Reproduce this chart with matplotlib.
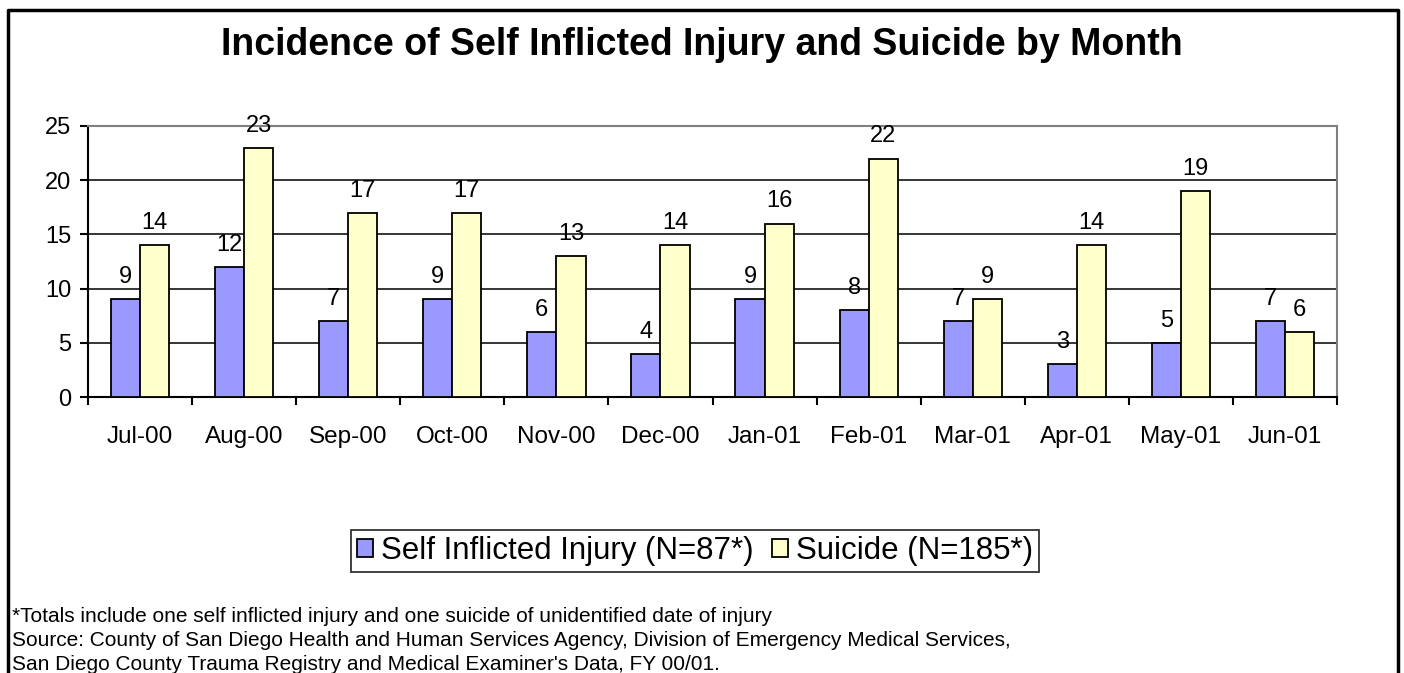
import matplotlib
matplotlib.use("Agg")
import matplotlib.pyplot as plt
import numpy as np

months = ["Jul-00", "Aug-00", "Sep-00", "Oct-00", "Nov-00", "Dec-00",
          "Jan-01", "Feb-01", "Mar-01", "Apr-01", "May-01", "Jun-01"]
self_injury = [9, 12, 7, 9, 6, 4, 9, 8, 7, 3, 5, 7]
suicide = [14, 23, 17, 17, 13, 14, 16, 22, 9, 14, 19, 6]
y_ticks = [0, 5, 10, 15, 20, 25]

BLUE = "#9999ff"
YELLOW = "#ffffcc"

plt.rcParams["font.family"] = ["Liberation Sans", "DejaVu Sans"]

fig = plt.figure(figsize=(14.04, 6.73), dpi=100)
ax = fig.add_axes([0.0627, 0.4101, 0.8896, 0.4027])

x = np.arange(len(months))
w = 0.28
b1 = ax.bar(x - w / 2, self_injury, w, color=BLUE, edgecolor="black",
            linewidth=1.3, zorder=3, label="Self Inflicted Injury (N=87*)")
b2 = ax.bar(x + w / 2, suicide, w, color=YELLOW, edgecolor="black",
            linewidth=1.3, zorder=3, label="Suicide (N=185*)")

for bars, vals in ((b1, self_injury), (b2, suicide)):
    for r, v in zip(bars, vals):
        ax.annotate(str(v), (r.get_x() + r.get_width() / 2, v),
                    xytext=(0, 8), textcoords="offset points",
                    ha="center", va="bottom", fontsize=17)

ax.set_xlim(-0.5, len(months) - 0.5)
ax.set_ylim(0, 25)
ax.set_yticks(y_ticks)
ax.set_yticklabels([str(t) for t in y_ticks], fontsize=17)
ax.set_xticks(x)
ax.set_xticklabels(months, fontsize=17.5)
ax.tick_params(axis="x", length=0, pad=21)
ax.set_xticks(np.arange(-0.5, len(months)), minor=True)
ax.tick_params(axis="x", which="minor", length=6, width=1.5, direction="out")
ax.tick_params(axis="y", length=6, width=1.5, direction="out", pad=6)

for t in y_ticks[1:-1]:
    ax.axhline(t, color="black", linewidth=1.1, zorder=1)

for s in ("left", "bottom"):
    ax.spines[s].set_linewidth(1.5)
    ax.spines[s].set_color("black")
for s in ("top", "right"):
    ax.spines[s].set_linewidth(1.5)
    ax.spines[s].set_color("#808080")

fig.text(0.5, 0.933, "Incidence of Self Inflicted Injury and Suicide by Month",
         ha="center", va="center", fontsize=27, fontweight="bold")

leg = fig.legend(handles=[b1, b2], loc="center", bbox_to_anchor=(0.4951, 0.181),
                 ncol=2, fontsize=22.5, frameon=True, fancybox=False,
                 handlelength=0.5, handleheight=0.5, handletextpad=0.25,
                 columnspacing=0.6, borderpad=0.2, borderaxespad=0)
leg.get_frame().set_edgecolor("black")
leg.get_frame().set_linewidth(1.3)

notes = [
    "*Totals include one self inflicted injury and one suicide of unidentified date of injury",
    "Source: County of San Diego Health and Human Services Agency, Division of Emergency Medical Services,",
    "San Diego County Trauma Registry and Medical Examiner's Data, FY 00/01.",
]
for i, line in enumerate(notes):
    fig.text(0.0085, 1 - (616 + i * 24.5) / 673, line, ha="left", va="center",
             fontsize=15)

# outer frame (no bottom edge)
fig.add_artist(plt.Line2D([0.0057, 0.0057, 0.9957, 0.9957],
                          [0.0, 0.985, 0.985, 0.0],
                          transform=fig.transFigure, color="black", linewidth=2.5))

fig.savefig("out.png", dpi=100, facecolor="white")
